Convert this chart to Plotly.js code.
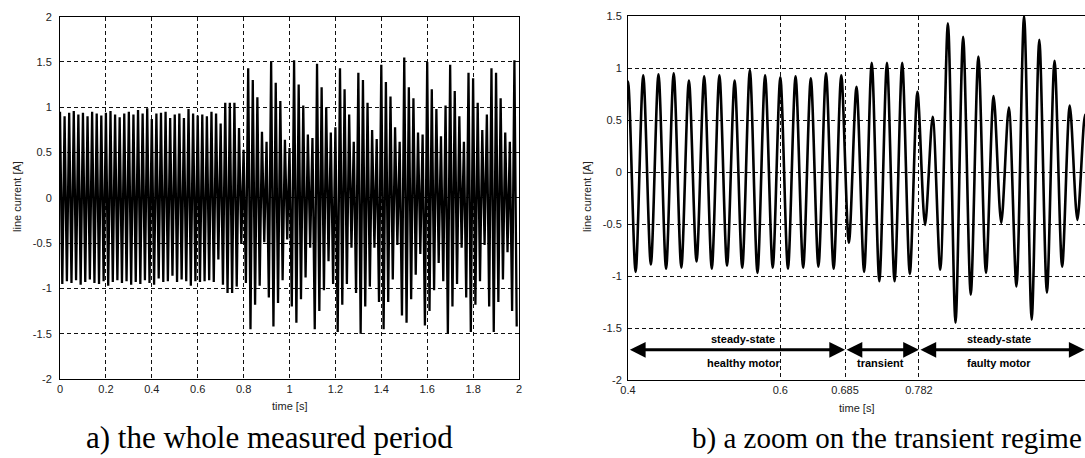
<!DOCTYPE html>
<html>
<head>
<meta charset="utf-8">
<script src="https://cdn.plot.ly/plotly-3.0.1.min.js"></script>
<style>
html,body{margin:0;padding:0;background:#ffffff;}
#chart{width:1085px;height:458px;}
</style>
</head>
<body>
<div id="chart"></div>
<script>
// ---- data ----
// positive peaks of the line current, one per supply period, starting at t = 0.00 s
const POS_PEAK_START = 0.00;
// negative peaks, one per supply period, starting at t = 0.01 s
const NEG_PEAK_START = 0.01;
const PEAK_STEP = 0.02; // supply period [s] (50 Hz)

const positivePeaks = [
  0.95, 0.90, 0.94, 0.96, 0.92, 0.94, 0.90, 0.95, 0.93, 0.91,
  0.94, 0.96, 0.92, 0.89, 0.93, 0.95, 0.92, 0.97, 0.93, 0.99,
  0.87, 0.93, 0.94, 0.95, 0.88, 0.92, 0.93, 0.88, 0.98, 0.93,
  0.91, 0.92, 0.90, 0.95, 0.93, 0.82, 1.05, 1.05, 1.05, 0.77,
  0.53, 1.43, 1.30, 1.11, 0.73, 0.62, 1.50, 1.27, 1.07, 0.64,
  0.55, 1.52, 1.25, 1.02, 0.70, 0.66, 1.48, 1.22, 1.00, 0.72,
  0.78, 1.43, 1.20, 0.92, 0.62, 1.38, 1.30, 1.05, 0.75, 0.65,
  1.47, 1.28, 1.12, 0.78, 0.62, 1.55, 1.22, 1.10, 0.72, 0.70,
  1.50, 1.20, 0.98, 0.68, 1.02, 1.47, 1.18, 0.90, 0.62, 1.38,
  1.32, 1.05, 0.75, 0.92, 1.43, 1.38, 1.10, 0.72, 0.62, 1.52
];
const negativePeaks = [
  -0.95, -0.92, -0.94, -0.91, -0.96, -0.93, -0.90, -0.94, -0.95, -0.92,
  -0.97, -0.93, -0.91, -0.94, -0.92, -0.96, -0.93, -0.95, -0.91, -0.94,
  -0.96, -0.89, -0.93, -0.92, -0.86, -0.93, -0.90, -0.92, -0.97, -0.92,
  -0.93, -0.92, -0.91, -0.93, -0.68, -0.96, -1.05, -1.05, -0.98, -0.51,
  -0.94, -1.45, -1.18, -0.97, -0.49, -1.10, -1.42, -1.16, -0.91, -0.46,
  -1.20, -1.38, -1.12, -0.88, -0.55, -1.45, -1.25, -1.02, -0.70, -0.95,
  -1.48, -1.18, -0.95, -0.55, -1.05, -1.50, -1.20, -0.98, -0.55, -1.15,
  -1.45, -1.15, -0.90, -0.52, -1.30, -1.38, -1.12, -0.85, -0.62, -1.41,
  -1.25, -1.02, -0.72, -0.92, -1.50, -1.20, -0.95, -0.55, -1.10, -1.48,
  -1.18, -0.92, -0.52, -1.20, -1.48, -1.15, -0.90, -0.60, -1.25, -1.42
];

const leftXTicks = [0, 0.2, 0.4, 0.6, 0.8, 1, 1.2, 1.4, 1.6, 1.8, 2];
const leftXTickText = ['0', '0.2', '0.4', '0.6', '0.8', '1', '1.2', '1.4', '1.6', '1.8', '2'];
const leftYTicks = [-2, -1.5, -1, -0.5, 0, 0.5, 1, 1.5, 2];
const leftYTickText = ['-2', '-1.5', '-1', '-0.5', '0', '0.5', '1', '1.5', '2'];
const rightXTicks = [0.4, 0.6, 0.685, 0.782];
const rightXTickText = ['0.4', '0.6', '0.685', '0.782'];
const rightYTicks = [-2, -1.5, -1, -0.5, 0, 0.5, 1, 1.5];
const rightYTickText = ['-2', '-1.5', '-1', '-0.5', '0', '0.5', '1', '1.5'];

// regime boundaries [s] and labels
const regimeBounds = [0.4, 0.685, 0.782, 1.0];
const regimeTopLabels = ['steady-state', '', 'steady-state'];
const regimeBottomLabels = ['healthy motor', 'transient', 'faulty motor'];
const regimeLabelX = [0.551, 0.731, 0.887];

const xTitle = 'time [s]';
const yTitle = 'line current [A]';
const captions = ['a) the whole measured period', 'b) a zoom on the transient regime'];

// ---- build the signal from the peaks ----
const time = [], current = [];
for (let i = 0; i < positivePeaks.length; i++) {
  time.push(+(POS_PEAK_START + i * PEAK_STEP).toFixed(3));
  current.push(positivePeaks[i]);
  time.push(+(NEG_PEAK_START + i * PEAK_STEP).toFixed(3));
  current.push(negativePeaks[i]);
}

const tickFont = {family: 'Liberation Sans, Arial, sans-serif', size: 11, color: '#222'};
const axisBase = {
  showline: true, linecolor: '#000', linewidth: 1,
  showgrid: true, gridcolor: '#111', gridwidth: 1, griddash: '4px,3px',
  zeroline: false, ticks: '', tickfont: tickFont, fixedrange: true
};

const W = 1085, H = 458;
const L = {x0: 60, x1: 519, y0: 16.7, y1: 379};
const R = {x0: 628, x1: 1085, y0: 16, y1: 380};

const traces = [
  {x: time, y: current, mode: 'lines', xaxis: 'x', yaxis: 'y',
   line: {color: '#000', width: 2.3}, hoverinfo: 'skip', showlegend: false},
  {x: time, y: current, mode: 'lines', xaxis: 'x2', yaxis: 'y2',
   line: {color: '#000', width: 2.6, shape: 'spline', smoothing: 0.85}, hoverinfo: 'skip', showlegend: false}
];

const ARROW_Y = -1.71, TOP_LABEL_Y = -1.61, BOTTOM_LABEL_Y = -1.84;
const annFont = {family: 'Liberation Sans, Arial, sans-serif', size: 11, color: '#000'};
const annotations = [];
for (let i = 0; i < 3; i++) {
  annotations.push({
    xref: 'x2', yref: 'y2', axref: 'x2', ayref: 'y2',
    x: Math.min(regimeBounds[i + 1], 0.9995), y: ARROW_Y,
    ax: Math.max(regimeBounds[i], 0.4005), ay: ARROW_Y,
    text: '', showarrow: true, arrowside: 'end+start',
    arrowhead: 2, startarrowhead: 2, arrowsize: 1.05, startarrowsize: 1.05,
    arrowwidth: 3, arrowcolor: '#000', standoff: 0, startstandoff: 0
  });
  if (regimeTopLabels[i]) {
    annotations.push({xref: 'x2', yref: 'y2', x: regimeLabelX[i], y: TOP_LABEL_Y, xanchor: 'center',
      text: '<b>' + regimeTopLabels[i] + '</b>', showarrow: false, font: annFont});
  }
  annotations.push({xref: 'x2', yref: 'y2', x: regimeLabelX[i], y: BOTTOM_LABEL_Y, xanchor: 'center',
    text: '<b>' + regimeBottomLabels[i] + '</b>', showarrow: false, font: annFont});
}
const titleFont = {family: 'Liberation Sans, Arial, sans-serif', size: 11, color: '#222'};
const capFontA = {family: 'Liberation Serif, Times New Roman, serif', size: 31, color: '#000'};
const capFontB = {family: 'Liberation Serif, Times New Roman, serif', size: 29, color: '#000'};
annotations.push(
  {xref: 'paper', yref: 'paper', x: (L.x0 + L.x1) / 2 / W, y: 1 - 406 / H, xanchor: 'center', yanchor: 'middle',
   text: xTitle, showarrow: false, font: titleFont},
  {xref: 'paper', yref: 'paper', x: (R.x0 + R.x1) / 2 / W, y: 1 - 408 / H, xanchor: 'center', yanchor: 'middle',
   text: xTitle, showarrow: false, font: titleFont},
  {xref: 'paper', yref: 'paper', x: 17 / W, y: 1 - 197 / H, xanchor: 'center', yanchor: 'middle',
   text: yTitle, textangle: -90, showarrow: false, font: titleFont},
  {xref: 'paper', yref: 'paper', x: 587 / W, y: 1 - 197 / H, xanchor: 'center', yanchor: 'middle',
   text: yTitle, textangle: -90, showarrow: false, font: titleFont},
  {xref: 'paper', yref: 'paper', x: 269 / W, y: 1 - 437 / H, xanchor: 'center', yanchor: 'middle',
   text: captions[0], showarrow: false, font: capFontA},
  {xref: 'paper', yref: 'paper', x: 887 / W, y: 1 - 438 / H, xanchor: 'center', yanchor: 'middle',
   text: captions[1], showarrow: false, font: capFontB}
);

const layout = {
  width: W, height: H,
  margin: {l: 0, r: 0, t: 0, b: 0, pad: 0},
  paper_bgcolor: '#ffffff', plot_bgcolor: '#ffffff',
  showlegend: false,
  xaxis: Object.assign({}, axisBase, {domain: [L.x0 / W, L.x1 / W], range: [0, 2], anchor: 'y',
    tickvals: leftXTicks, ticktext: leftXTickText, mirror: true}),
  yaxis: Object.assign({}, axisBase, {domain: [1 - L.y1 / H, 1 - L.y0 / H], range: [-2, 2], anchor: 'x',
    tickvals: leftYTicks, ticktext: leftYTickText, mirror: true, ticklabelstandoff: 5}),
  xaxis2: Object.assign({}, axisBase, {domain: [R.x0 / W, R.x1 / W], range: [0.4, 1.0], anchor: 'y2',
    tickvals: rightXTicks, ticktext: rightXTickText, mirror: true}),
  yaxis2: Object.assign({}, axisBase, {domain: [1 - R.y1 / H, 1 - R.y0 / H], range: [-2, 1.5], anchor: 'x2',
    tickvals: rightYTicks, ticktext: rightYTickText, mirror: false, ticklabelstandoff: 3}),
  annotations: annotations
};

Plotly.newPlot('chart', traces, layout, {staticPlot: true, displayModeBar: false});
</script>
</body>
</html>
